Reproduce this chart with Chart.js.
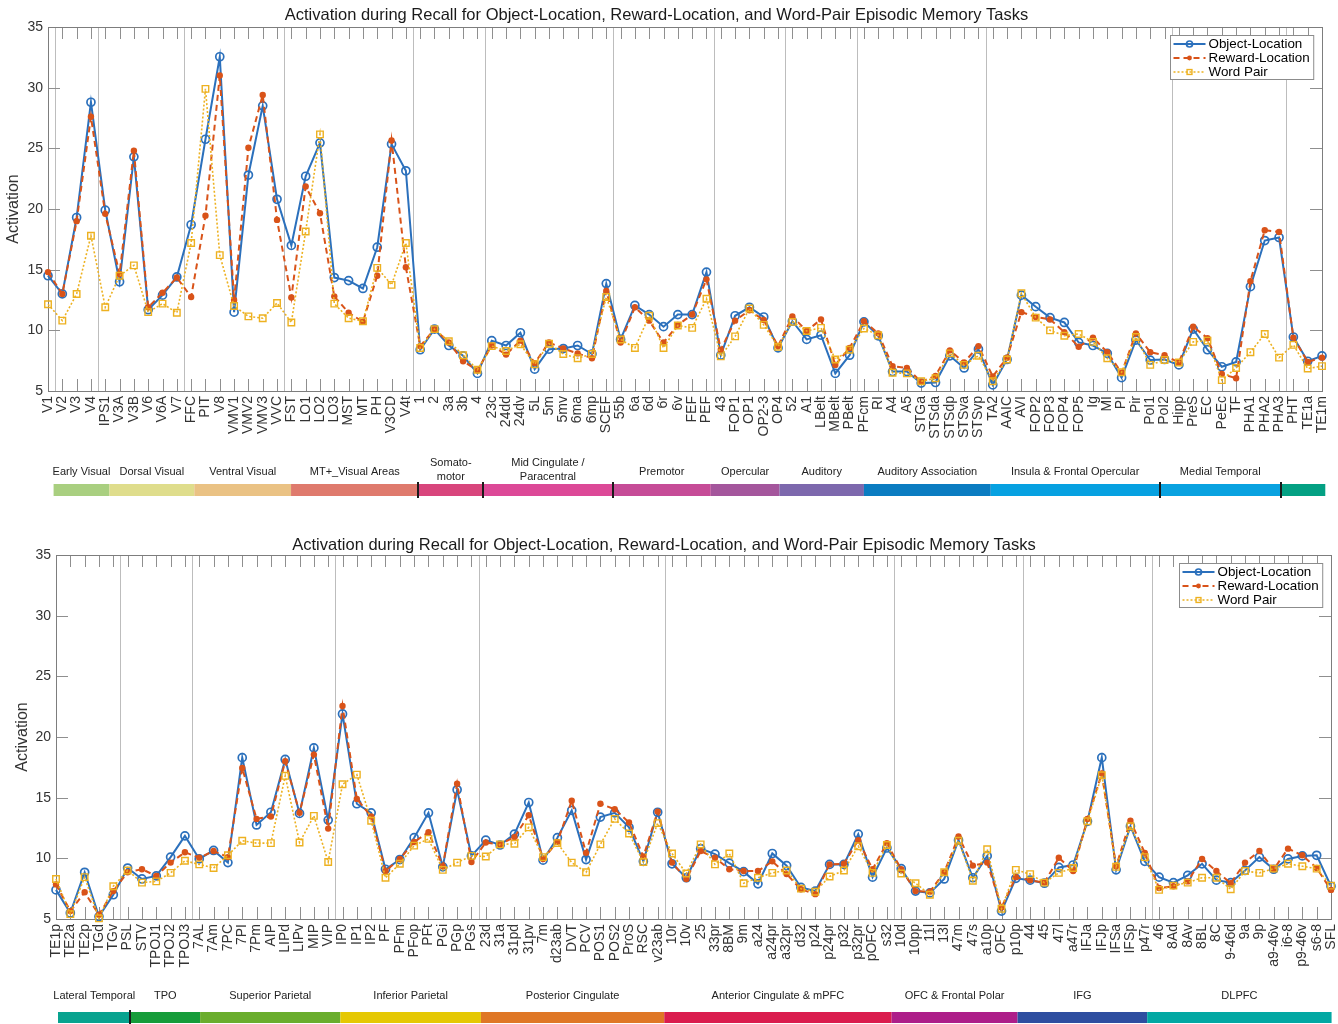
<!DOCTYPE html>
<html>
<head>
<meta charset="utf-8">
<script src="https://cdn.jsdelivr.net/npm/chart.js@4.4.1/dist/chart.umd.min.js"></script>
<style>
  html, body { margin: 0; padding: 0; background: #fff; }
  #wrap { position: relative; width: 1338px; height: 1024px; }
  canvas { position: absolute; left: 0; }
</style>
</head>
<body>
<div id="wrap">
  <canvas id="topChart" width="1338" height="512" style="top:0;width:1338px;height:512px"></canvas>
  <canvas id="bottomChart" width="1338" height="512" style="top:512px;width:1338px;height:512px"></canvas>
</div>
<script>
// ---------- Panel 1: visual, sensorimotor, auditory, insular and medial temporal areas ----------
const topCats = ['V1','V2','V3','V4','IPS1','V3A','V3B','V6','V6A','V7','FFC','PIT','V8','VMV1','VMV2','VMV3','VVC',
  'FST','LO1','LO2','LO3','MST','MT','PH','V3CD','V4t','1','2','3a','3b','4','23c','24dd','24dv','5L','5m','5mv','6ma',
  '6mp','SCEF','55b','6a','6d','6r','6v','FEF','PEF','43','FOP1','OP1','OP2-3','OP4','52','A1','LBelt','MBelt','PBelt',
  'PFcm','RI','A4','A5','STGa','STSda','STSdp','STSva','STSvp','TA2','AAIC','AVI','FOP2','FOP3','FOP4','FOP5','Ig','MI',
  'PI','Pir','PoI1','PoI2','Hipp','PreS','EC','PeEc','TF','PHA1','PHA2','PHA3','PHT','TE1a','TE1m'];

const topObject = [14.5,13.0,19.3,28.8,19.9,14.0,24.3,11.7,12.9,14.4,18.7,25.75,32.55,11.5,22.8,28.5,20.8,
  17.0,22.7,25.45,14.35,14.1,13.45,16.85,25.35,23.15,
  8.4,10.1,8.75,7.9,6.45,
  9.15,8.75,9.8,6.8,8.45,8.5,8.75,8.05,13.85,
  9.25,12.05,11.3,10.3,11.3,11.3,14.8,
  7.95,11.2,11.9,11.1,8.55,
  10.75,9.25,9.6,6.45,7.95,
  10.7,9.55,6.6,6.6,5.65,5.7,7.9,6.9,8.45,
  5.5,7.6,12.9,11.95,11.05,10.65,9.0,8.75,8.1,6.1,9.2,7.55,7.6,
  7.15,10.1,8.4,7.0,7.4,13.6,17.4,17.65,
  9.45,7.45,7.9];

const topReward = [14.8,13.0,19.0,27.6,19.6,14.65,24.8,11.9,13.1,14.35,12.75,19.45,31.0,12.5,25.05,29.4,19.1,
  12.7,21.85,19.65,12.8,11.45,10.7,14.5,25.65,15.2,
  8.7,10.1,9.0,7.45,6.7,
  8.75,8.0,9.15,7.3,9.0,8.5,8.1,7.7,13.25,
  9.0,11.9,10.8,9.0,10.45,11.3,14.2,
  8.4,10.8,11.65,10.85,8.7,
  11.15,9.95,10.9,7.15,8.55,
  10.75,9.75,7.05,6.9,5.75,6.25,8.35,7.35,8.7,
  6.2,7.75,11.5,11.1,10.9,9.85,8.65,9.4,8.2,6.5,9.75,8.2,7.95,
  7.35,10.3,9.35,6.4,6.05,14.05,18.25,18.1,
  9.4,7.4,7.75];

const topWord = [12.15,10.8,13.0,17.8,11.9,14.5,15.35,11.5,12.2,11.45,17.2,29.9,16.2,12.0,11.15,11.0,12.25,
  10.65,18.15,26.15,12.2,11.0,10.75,15.15,13.75,17.2,
  8.55,10.1,9.1,7.95,6.75,
  8.7,8.3,8.85,7.2,8.9,8.05,7.7,8.05,12.75,
  9.25,8.55,11.2,8.55,10.4,10.2,12.6,
  7.85,9.5,11.8,10.45,8.65,
  10.7,9.95,10.2,7.6,8.4,
  10.15,9.6,6.5,6.45,5.8,6.05,8.1,7.15,7.9,
  5.8,7.6,13.05,11.05,10.0,9.55,9.7,9.05,7.7,6.55,9.45,7.15,7.55,
  7.35,9.05,9.15,5.9,6.9,8.2,9.7,7.75,
  8.8,6.85,7.05];

// first area of each block that gets a vertical divider
const topBlockStarts = ['V2','IPS1','FFC','FST','1','23c','55b','43','52','PFcm','TA2','Hipp','PHT'];

const topRegionNames = ['Early Visual','Dorsal Visual','Ventral Visual','MT+_Visual Areas','Somato-\nmotor',
  'Mid Cingulate /\nParacentral','Premotor','Opercular','Auditory','Auditory Association',
  'Insula & Frontal Opercular','Medial Temporal',''];

// ---------- Panel 2: temporal, parietal, cingulate and frontal areas ----------
const bottomCats = ['TE1p','TE2a','TE2p','TGd','TGv','PSL','STV','TPOJ1','TPOJ2','TPOJ3','7AL','7Am','7PC','7PI',
  '7Pm','AIP','LIPd','LIPv','MIP','VIP','IP0','IP1','IP2','PF','PFm','PFop','PFt','PGi','PGp','PGs','23d','31a','31pd',
  '31pv','7m','d23ab','DVT','PCV','POS1','POS2','ProS','RSC','v23ab','10r','10v','25','33pr','8BM','9m','a24','a24pr',
  'a32pr','d32','p24','p24pr','p32','p32pr','pOFC','s32','10d','10pp','11l','13l','47m','47s','a10p','OFC','p10p','44',
  '45','47l','a47r','IFJa','IFJp','IFSa','IFSp','p47r','46','8Ad','8Av','8BL','8C','9-46d','9a','9p','a9-46v','i6-8',
  'p9-46v','s6-8','SFL'];

const bottomObject = [7.4,5.5,8.85,5.2,7.0,
  9.2,8.3,8.55,10.1,11.85,
  9.95,10.65,9.65,18.3,12.75,13.8,18.15,13.7,19.1,13.15,
  21.9,14.5,13.75,9.1,9.9,11.7,13.75,9.3,15.65,10.2,
  11.5,11.1,12.0,14.6,9.85,11.7,13.95,9.9,13.4,13.75,12.55,9.75,13.8,
  9.55,8.4,10.8,10.35,9.6,8.9,7.9,10.4,9.4,7.6,7.3,9.5,9.5,12.0,8.45,10.85,
  9.15,7.3,7.15,8.3,11.5,8.4,10.2,5.65,8.35,
  8.2,7.95,9.25,9.45,13.05,18.3,9.05,12.65,9.75,
  8.45,8.0,8.6,9.55,8.2,8.0,9.0,10.1,9.1,9.95,10.2,10.25,7.7];

const bottomReward = [7.85,5.65,7.2,5.35,7.3,
  8.85,9.1,8.55,9.65,10.5,
  10.05,10.6,10.1,17.45,13.25,13.45,18.0,13.75,18.55,12.45,
  22.55,14.9,13.45,8.95,9.95,11.35,12.15,9.35,16.15,9.7,
  11.3,11.15,11.75,13.55,9.95,11.35,14.75,10.45,14.5,14.05,12.95,10.15,13.85,
  9.65,8.3,10.6,10.05,9.1,8.95,8.95,9.75,8.7,7.45,7.05,9.5,9.55,11.5,9.1,11.25,
  9.1,7.3,7.25,8.85,11.8,9.4,9.65,5.95,8.45,
  8.2,8.0,10.05,8.95,13.25,17.0,9.35,13.1,10.45,
  7.55,7.7,8.1,9.95,8.95,7.95,9.65,10.6,9.1,10.8,10.25,9.2,7.4];

const bottomWord = [8.3,5.4,8.45,5.05,7.7,
  9.0,8.0,8.1,8.8,9.8,
  9.5,9.2,10.25,11.45,11.25,11.25,16.8,11.3,13.5,9.7,
  16.1,16.9,13.1,8.4,9.55,11.05,11.6,9.05,9.65,10.2,
  10.15,11.15,11.2,12.55,10.1,11.25,9.65,8.85,11.15,13.25,12.05,9.7,12.9,
  10.4,8.75,11.15,9.5,10.4,7.95,8.4,8.8,9.0,7.5,7.25,8.5,9.0,11.0,8.8,11.1,
  8.75,7.95,7.0,8.85,11.45,8.15,10.75,5.85,9.05,
  8.7,8.0,8.8,9.2,13.05,16.85,9.3,12.65,10.1,
  7.4,7.75,8.0,8.4,8.4,7.45,8.95,8.8,9.15,9.55,9.35,9.15,7.75];

const bottomBlockStarts = ['PSL','7AL','IP0','23d','10r','10d','44','46'];

const bottomRegionNames = ['Lateral Temporal','TPO','Superior Parietal','Inferior Parietal','Posterior Cingulate',
  'Anterior Cingulate & mPFC','OFC & Frontal Polar','IFG','DLPFC'];

const seriesNames = ['Object-Location', 'Reward-Location', 'Word Pair'];
const yTicks = [5, 10, 15, 20, 25, 30, 35];
const chartTitle = 'Activation during Recall for Object-Location, Reward-Location, and Word-Pair Episodic Memory Tasks';

// ---------- styling ----------
const BLUE = '#2b70bc', RED = '#d95319', YEL = '#edb120';
const FONT = "'Liberation Sans', Arial, Helvetica, sans-serif";
Chart.defaults.font.family = FONT;

// colour strip under each panel: edges in category-index units along the x scale
const topStrip = {
  edges: [0.39, 4.29, 10.22, 16.98, 25.88, 30.40, 39.45, 46.3, 51.1, 57.0, 65.86, 77.65, 86.13, 89.23],
  colors: ['#a9cf80','#dfdd8c','#eac284','#df7a6d','#d8457c','#dc4997','#c64c97','#a4569c','#7d68ad',
           '#0b7cc1','#06a1e1','#09a2e0','#04a083'],
  marks: [4, 5, 6, 11, 12],
  barY: 484, barH: 12, labelY: 472, lineGap: 14
};
const bottomStrip = {
  edges: [0.14, 5.2, 10.06, 19.85, 29.66, 42.46, 58.33, 67.12, 76.17, 89.04],
  colors: ['#08a38f','#169c3a','#6aad2d','#e5c803','#df7726','#da1d4e','#ad1e89','#2e4ea0','#02a8a3'],
  marks: [1],
  barY: 500, barH: 11, labelY: 484, lineGap: 14
};

function makeSets(obj, rew, word) {
  return [
    { label: seriesNames[0], data: obj, borderColor: BLUE, backgroundColor: BLUE, borderWidth: 2,
      pointStyle: 'circle', pointRadius: 4, pointBorderWidth: 1.7, pointBorderColor: BLUE,
      pointBackgroundColor: 'rgba(255,255,255,0)', order: 2, clip: false },
    { label: seriesNames[1], data: rew, borderColor: RED, backgroundColor: RED, borderWidth: 2, borderDash: [6, 4],
      pointStyle: 'circle', pointRadius: 3.2, pointBorderWidth: 0, pointBackgroundColor: RED, order: 1, clip: false },
    { label: seriesNames[2], data: word, borderColor: YEL, backgroundColor: YEL, borderWidth: 1.6, borderDash: [2, 2],
      pointStyle: 'rect', pointRadius: 4.6, pointBorderWidth: 1.4, pointBorderColor: YEL,
      pointBackgroundColor: 'rgba(255,255,255,0)', order: 0, clip: false }
  ];
}

// legend sample marker, drawn a little smaller than the plotted points
function marker(ctx, ds, cx, cy, k) {
  ctx.save();
  ctx.setLineDash([]);
  const r = ds.pointRadius * k;
  if (ds.pointStyle === 'rect') {
    const s = Math.SQRT1_2 * r;
    ctx.strokeStyle = ds.pointBorderColor; ctx.lineWidth = ds.pointBorderWidth;
    ctx.strokeRect(cx - s, cy - s, 2 * s, 2 * s);
  } else if (ds.pointBorderWidth > 0) {
    ctx.strokeStyle = ds.pointBorderColor; ctx.lineWidth = ds.pointBorderWidth;
    ctx.beginPath(); ctx.arc(cx, cy, r, 0, Math.PI * 2); ctx.stroke();
  } else {
    ctx.fillStyle = ds.pointBackgroundColor;
    ctx.beginPath(); ctx.arc(cx, cy, r, 0, Math.PI * 2); ctx.fill();
  }
  ctx.restore();
}

// frame, inward ticks, block dividers, title, legend box and region strip
const decor = {
  id: 'decor',
  beforeDatasetsDraw(chart, _args, o) {
    const ctx = chart.ctx, a = chart.chartArea, x = chart.scales.x, y = chart.scales.y;
    const labels = chart.data.labels;
    ctx.save();
    ctx.lineWidth = 1;
    ctx.strokeStyle = '#bdbdbd';
    ctx.beginPath();
    o.blockStarts.forEach(name => {
      const px = Math.round(x.getPixelForValue(labels.indexOf(name) - 0.5)) + 0.5;
      ctx.moveTo(px, a.top); ctx.lineTo(px, a.bottom);
    });
    ctx.stroke();

    ctx.strokeStyle = '#8f8f8f';
    ctx.beginPath();
    labels.forEach((_, i) => {
      const px = Math.round(x.getPixelForValue(i)) + 0.5;
      ctx.moveTo(px, a.bottom); ctx.lineTo(px, a.bottom - 12);
      ctx.moveTo(px, a.top); ctx.lineTo(px, a.top + 12);
    });
    y.ticks.forEach(t => {
      const py = Math.round(y.getPixelForValue(t.value)) + 0.5;
      ctx.moveTo(a.left, py); ctx.lineTo(a.left + 12, py);
      ctx.moveTo(a.right, py); ctx.lineTo(a.right - 12, py);
    });
    ctx.stroke();

    ctx.strokeStyle = '#7d7d7d';
    ctx.strokeRect(Math.round(a.left) + 0.5, Math.round(a.top) + 0.5,
                   Math.round(a.right - a.left), Math.round(a.bottom - a.top));
    ctx.restore();
  },
  afterDraw(chart, _args, o) {
    const ctx = chart.ctx, a = chart.chartArea, x = chart.scales.x;
    ctx.save();

    // title
    ctx.fillStyle = '#1a1a1a';
    ctx.font = '16.5px ' + FONT;
    ctx.textAlign = 'center'; ctx.textBaseline = 'middle';
    ctx.fillText(chartTitle, (a.left + a.right) / 2 + o.titleShift, o.titleY);

    // legend
    const sets = chart.data.datasets;
    ctx.font = '13.4px ' + FONT;
    const tw = Math.max(...sets.map(d => ctx.measureText(d.label).width));
    const w = 38 + tw + 4, h = 44;
    const lx = Math.round(a.right - 9 - w) + 0.5, ly = Math.round(a.top + 8) + 0.5;
    ctx.fillStyle = '#fff'; ctx.fillRect(lx, ly, w, h);
    ctx.strokeStyle = '#8c8c8c'; ctx.lineWidth = 1; ctx.strokeRect(lx, ly, w, h);
    sets.forEach((d, i) => {
      const cy = ly + 8.5 + i * 14;
      ctx.save();
      ctx.strokeStyle = d.borderColor; ctx.lineWidth = d.borderWidth;
      ctx.setLineDash(d.borderDash || []);
      ctx.beginPath(); ctx.moveTo(lx + 3, cy); ctx.lineTo(lx + 35, cy); ctx.stroke();
      ctx.restore();
      marker(ctx, d, lx + 19, cy, 0.75);
      ctx.fillStyle = '#000'; ctx.textAlign = 'left'; ctx.textBaseline = 'middle';
      ctx.fillText(d.label, lx + 38, cy + 0.5);
    });

    // region strip
    const s = o.strip;
    ctx.font = '11px ' + FONT;
    ctx.textAlign = 'center'; ctx.textBaseline = 'middle';
    for (let i = 0; i < s.colors.length; i++) {
      const x0 = x.getPixelForValue(s.edges[i]), x1 = x.getPixelForValue(s.edges[i + 1]);
      ctx.fillStyle = s.colors[i];
      ctx.fillRect(x0, s.barY, x1 - x0, s.barH);
      const name = o.regionNames[i];
      if (name) {
        const lines = name.split('\n');
        ctx.fillStyle = '#222';
        const cx = (x0 + x1) / 2;
        if (lines.length === 1) ctx.fillText(lines[0], cx, s.labelY);
        else lines.forEach((t, k) => ctx.fillText(t, cx, s.labelY - 9.5 + k * s.lineGap));
      }
    }
    ctx.fillStyle = '#1a1a1a';
    s.marks.forEach(k => {
      const px = x.getPixelForValue(s.edges[k]);
      ctx.fillRect(Math.round(px) - 1, s.barY - 2, 2, s.barH + 4);
    });
    ctx.restore();
  }
};

function buildChart(canvasId, cats, sets, cfg) {
  return new Chart(document.getElementById(canvasId), {
    type: 'line',
    data: { labels: cats, datasets: sets },
    plugins: [decor],
    options: {
      responsive: false,
      animation: false,
      devicePixelRatio: 1,
      layout: { padding: { top: cfg.padTop, right: cfg.padRight, left: 0, bottom: 0 } },
      elements: { line: { tension: 0 } },
      plugins: {
        legend: { display: false },
        tooltip: { enabled: false },
        decor: cfg.decor
      },
      scales: {
        x: {
          type: 'category',
          offset: false,
          grid: { display: false, drawTicks: false },
          border: { display: false },
          ticks: { autoSkip: false, minRotation: 90, maxRotation: 90, padding: 5,
                    color: '#333', font: { size: 14 } },
          afterFit: sc => { sc.height = cfg.xHeight; sc.paddingLeft = 0; sc.paddingRight = 0; }
        },
        y: {
          min: 5, max: 35,
          afterBuildTicks: sc => { sc.ticks = yTicks.map(v => ({ value: v })); },
          grid: { display: false, drawTicks: false },
          border: { display: false },
          ticks: { padding: 5, color: '#333', font: { size: 14 } },
          title: { display: true, text: 'Activation', color: '#333', font: { size: 16 },
                   padding: { top: cfg.yTitlePad, bottom: 0 } },
          afterFit: sc => { sc.width = cfg.yWidth; sc.paddingTop = 0; sc.paddingBottom = 0; }
        }
      }
    }
  });
}

buildChart('topChart', topCats, makeSets(topObject, topReward, topWord), {
  padTop: 27, padRight: 16, xHeight: 121, yWidth: 48, yTitlePad: 4,
  decor: { blockStarts: topBlockStarts, strip: topStrip, regionNames: topRegionNames, titleY: 15, titleShift: -28.5 }
});

buildChart('bottomChart', bottomCats, makeSets(bottomObject, bottomReward, bottomWord), {
  padTop: 43, padRight: 7, xHeight: 105, yWidth: 56, yTitlePad: 13,
  decor: { blockStarts: bottomBlockStarts, strip: bottomStrip, regionNames: bottomRegionNames, titleY: 33, titleShift: -29.5 }
});
</script>
</body>
</html>
